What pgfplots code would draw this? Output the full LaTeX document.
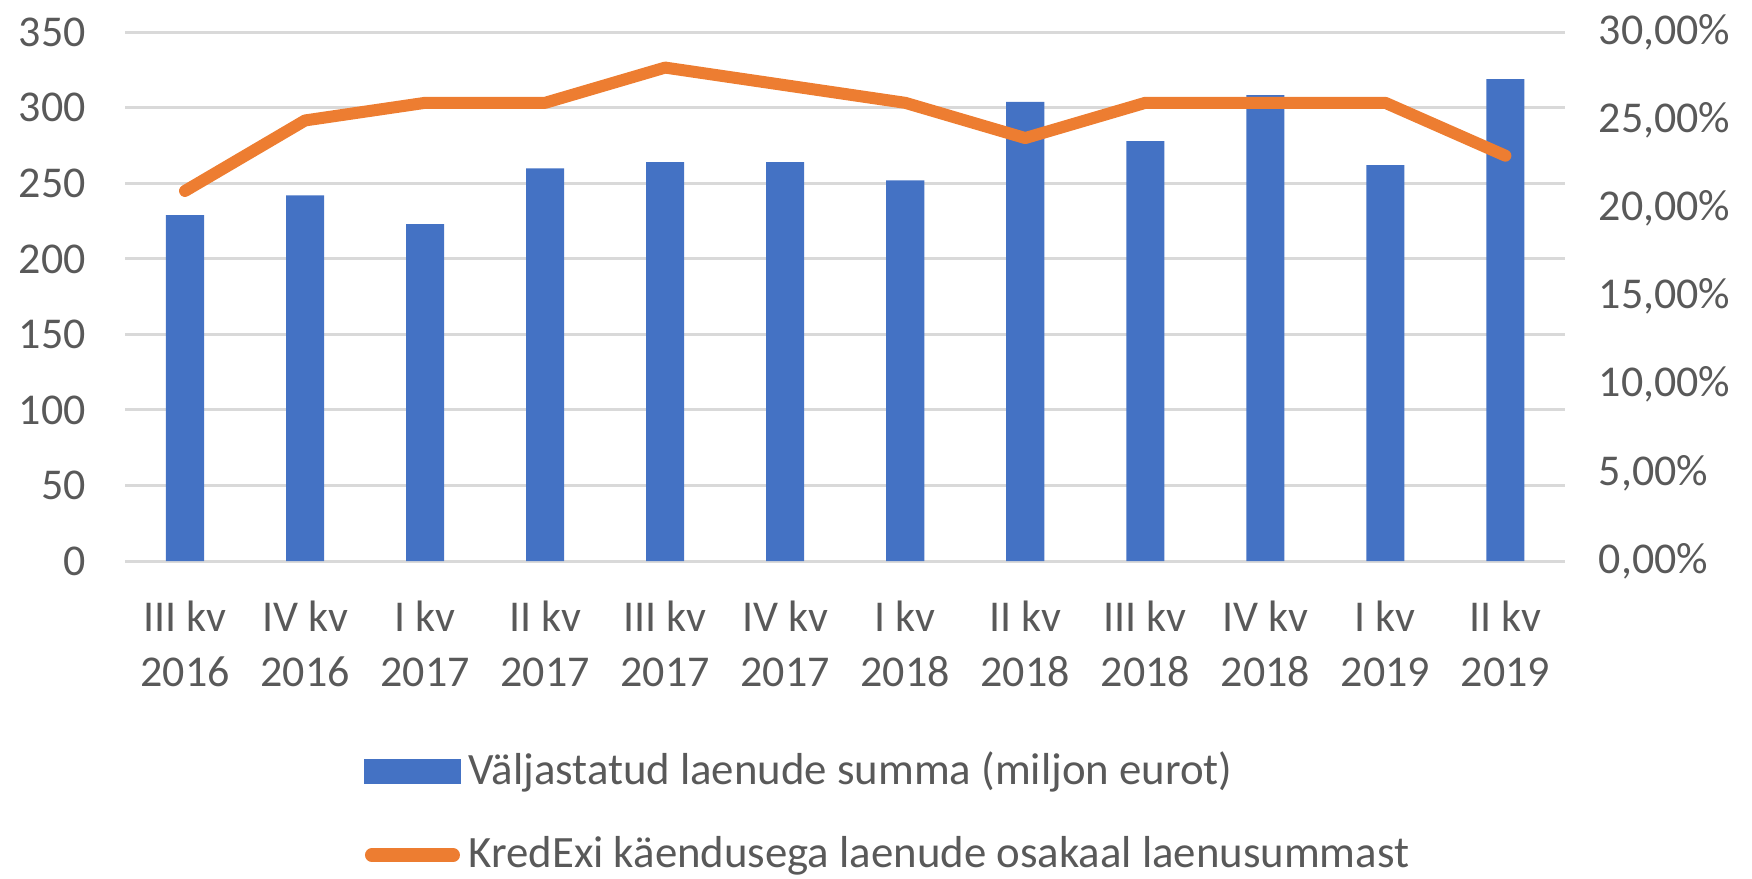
\documentclass[border=0pt]{standalone}
\usepackage{fontspec}
\setmainfont{Carlito}
\usepackage{pgfplots}
\pgfplotsset{compat=1.18}
\definecolor{barblue}{HTML}{4472C4}
\definecolor{lineorange}{HTML}{ED7D31}
\definecolor{txt}{HTML}{595959}
\definecolor{gridgray}{HTML}{D9D9D9}
\begin{document}
\begin{tikzpicture}
\path[use as bounding box] (-31.25pt,-79.25pt) rectangle (406.75pt,140.25pt);
\pgfplotsset{
 common/.style={
  at={(0,0)}, anchor=south west,
  scale only axis, width=360.1pt, height=132.17pt,
  xmin=-0.5, xmax=11.5,
  axis line style={draw=none},
  major tick length=0pt,
  tick label style={font=\fontsize{11}{13}\selectfont, text=txt},
  /pgf/number format/assume math mode=true,
 }
}
\begin{axis}[common,
  ymin=0, ymax=350, ytick={0,50,...,350},
  ymajorgrids, grid style={gridgray, line width=0.75pt},
  yticklabel style={xshift=-6.3pt},
  xtick={0,...,11},
  xticklabels={III kv\\2016, IV kv\\2016, I kv\\2017, II kv\\2017, III kv\\2017, IV kv\\2017, I kv\\2018, II kv\\2018, III kv\\2018, IV kv\\2018, I kv\\2019, II kv\\2019},
  xticklabel style={align=center, font=\fontsize{11}{13.75}\selectfont, yshift=-6.5pt},
]
\addplot[ybar, bar width=0.317, fill=barblue, draw=none] coordinates {
 (0,229) (1,242) (2,223) (3,260) (4,264) (5,264) (6,252) (7,304) (8,278) (9,308.5) (10,262) (11,319)};
\end{axis}
\begin{axis}[common, axis y line*=right, axis x line=none,
  ymin=0, ymax=30, ytick={0,5,...,30},
  yticklabels={{0,00\%},{5,00\%},{10,00\%},{15,00\%},{20,00\%},{25,00\%},{30,00\%}},
  yticklabel style={xshift=4.8pt},
  xtick=\empty,
  legend cell align=left,
  legend style={at={(axis description cs:0.1655,-0.345)}, anchor=north west, draw=none, fill=none,
    font=\fontsize{11.2}{13.5}\selectfont, text=txt, row sep=7.4pt, inner sep=0pt,
    /tikz/every even column/.append style={column sep=3.4pt}},
]
\addlegendimage{legend image code/.code={\fill[barblue] (0pt,-3pt) rectangle (23.75pt,3pt);}}
\addlegendentry{Väljastatud laenude summa (miljon eurot)}
\addplot[lineorange, line width=3pt, line join=round, line cap=round,
  legend image code/.code={\draw[lineorange, line width=3.4pt, line cap=round] (1.7pt,0pt) -- (22.05pt,0pt);}]
 coordinates {(0,21) (1,25) (2,26) (3,26) (4,28) (5,27) (6,26) (7,24) (8,26) (9,26) (10,26) (11,23)};
\addlegendentry{KredExi käendusega laenude osakaal laenusummast}
\end{axis}
\end{tikzpicture}
\end{document}
